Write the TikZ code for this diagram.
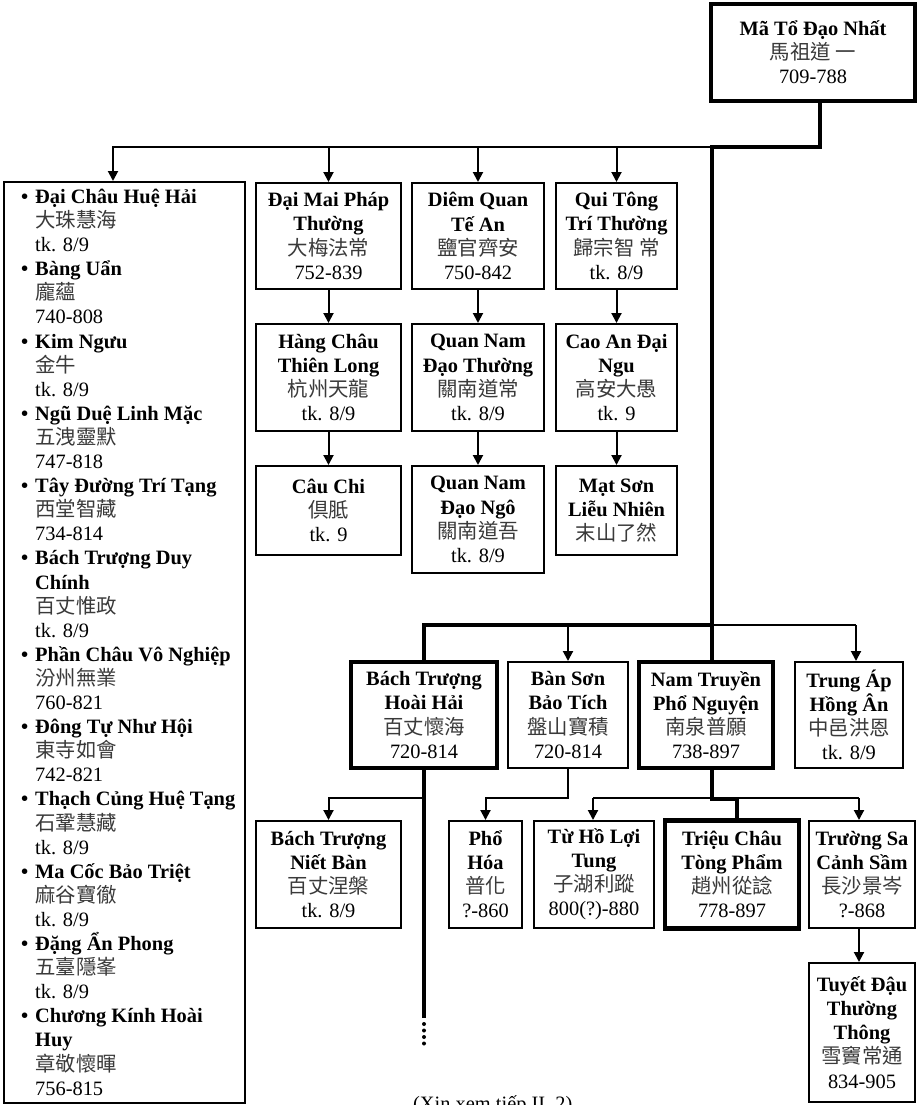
\documentclass[tikz,border=0pt]{standalone}
\usepackage{fontspec}
\setmainfont{Liberation Serif}
\newfontfamily\cjkfont{Noto Sans CJK TC}
\usetikzlibrary{arrows.meta}
\definecolor{cjkc}{HTML}{3A3A3A}
\newcommand\fs{\fontsize{20.4pt}{24.1pt}\selectfont}
\newcommand\cj[1]{{\cjkfont\color{cjkc}#1}}
\newcommand\nm[1]{\textbf{#1}}
\newcommand\bul[1]{\textbf{\llap{•\hspace{7pt}}#1}}
\begin{document}
\begin{tikzpicture}[x=1pt,y=-1pt,
  box/.style={draw, line width=2pt, align=center, font=\fs, inner sep=0pt},
  tbox/.style={box, line width=4.5pt},
  thinl/.style={line width=2pt},
  thickl/.style={line width=4.5pt},
  arr/.style={-{Triangle[length=10pt,width=10pt]}},
]
\useasboundingbox (0,0) rectangle (917,1105);
\fill[white] (0,0) rectangle (917,1105);

% root
\node[tbox, minimum width=204pt, minimum height=97pt] (ma) at (813,52.5)
  {\nm{Mã Tổ Đạo Nhất}\\\cj{馬祖道 一}\\709-788};

% left list
\node[draw, line width=2pt, minimum width=241pt, minimum height=921pt, inner sep=0pt] (lst) at (124.5,642.5) {};
\node[font=\fs, align=left, inner sep=0pt, anchor=south west] (lsttxt) at (35,1095.5) {%
\bul{Đại Châu Huệ Hải}\\ \cj{大珠慧海}\\ tk. 8/9\\
\bul{Bàng Uẩn}\\ \cj{龐蘊}\\ 740-808\\
\bul{Kim Ngưu}\\ \cj{金牛}\\ tk. 8/9\\
\bul{Ngũ Duệ Linh Mặc}\\ \cj{五洩靈默}\\ 747-818\\
\bul{Tây Đường Trí Tạng}\\ \cj{西堂智藏}\\ 734-814\\
\bul{Bách Trượng Duy}\\ \nm{Chính}\\ \cj{百丈惟政}\\ tk. 8/9\\
\bul{Phần Châu Vô Nghiệp}\\ \cj{汾州無業}\\ 760-821\\
\bul{Đông Tự Như Hội}\\ \cj{東寺如會}\\ 742-821\\
\bul{Thạch Củng Huệ Tạng}\\ \cj{石鞏慧藏}\\ tk. 8/9\\
\bul{Ma Cốc Bảo Triệt}\\ \cj{麻谷寶徹}\\ tk. 8/9\\
\bul{Đặng Ẩn Phong}\\ \cj{五臺隱峯}\\ tk. 8/9\\
\bul{Chương Kính Hoài}\\ \nm{Huy}\\ \cj{章敬懷暉}\\ 756-815};

% row 1-3 columns
\node[box, minimum width=145pt, minimum height=106pt] (a1) at (328.5,236) {\nm{Đại Mai Pháp}\\\nm{Thường}\\\cj{大梅法常}\\752-839};
\node[box, minimum width=132pt, minimum height=106pt] (b1) at (478,236) {\nm{Diêm Quan}\\\nm{Tế An}\\\cj{鹽官齊安}\\750-842};
\node[box, minimum width=121pt, minimum height=106pt] (c1) at (616.5,236) {\nm{Qui Tông}\\\nm{Trí Thường}\\\cj{歸宗智 常}\\tk. 8/9};

\node[box, minimum width=145pt, minimum height=107pt] (a2) at (328.5,377.5) {\nm{Hàng Châu}\\\nm{Thiên Long}\\\cj{杭州天龍}\\tk. 8/9};
\node[box, minimum width=132pt, minimum height=107pt] (b2) at (478,377.5) {\nm{Quan Nam}\\\nm{Đạo Thường}\\\cj{關南道常}\\tk. 8/9};
\node[box, minimum width=121pt, minimum height=107pt] (c2) at (616.5,377.5) {\nm{Cao An Đại}\\\nm{Ngu}\\\cj{高安大愚}\\tk. 9};

\node[box, minimum width=145pt, minimum height=89pt] (a3) at (328.5,510.5) {\nm{Câu Chi}\\\cj{倶胝}\\tk. 9};
\node[box, minimum width=132pt, minimum height=107pt] (b3) at (478,519.5) {\nm{Quan Nam}\\\nm{Đạo Ngô}\\\cj{關南道吾}\\tk. 8/9};
\node[box, minimum width=121pt, minimum height=89pt] (c3) at (616.5,510.5) {\nm{Mạt Sơn}\\\nm{Liễu Nhiên}\\\cj{末山了然}};

% level 2
\node[tbox, minimum width=146pt, minimum height=106pt] (bthh) at (424,715) {\nm{Bách Trượng}\\\nm{Hoài Hải}\\\cj{百丈懷海}\\720-814};
\node[box, minimum width=120pt, minimum height=106pt] (bs) at (568,715) {\nm{Bàn Sơn}\\\nm{Bảo Tích}\\\cj{盤山寶積}\\720-814};
\node[tbox, minimum width=134pt, minimum height=106pt] (nt) at (706,715) {\nm{Nam Truyền}\\\nm{Phổ Nguyện}\\\cj{南泉普願}\\738-897};
\node[box, minimum width=108pt, minimum height=106pt] (ta) at (849,715) {\nm{Trung Áp}\\\nm{Hồng Ân}\\\cj{中邑洪恩}\\tk. 8/9};

% level 3
\node[box, minimum width=145pt, minimum height=107pt] (btnb) at (328.5,874.5) {\nm{Bách Trượng}\\\nm{Niết Bàn}\\\cj{百丈涅槃}\\tk. 8/9};
\node[box, minimum width=73pt, minimum height=107pt] (ph) at (485.5,874.5) {\nm{Phổ}\\\nm{Hóa}\\\cj{普化}\\?-860};
\node[box, minimum width=120pt, minimum height=107pt] (th) at (594,874.5) {\nm{Từ Hồ Lợi}\\\nm{Tung}\\\cj{子湖利蹤}\\800(?)-880};
\node[tbox, minimum width=134pt, minimum height=108pt] (tc) at (732,874.5) {\nm{Triệu Châu}\\\nm{Tòng Phẩm}\\\cj{趙州從諗}\\778-897};
\node[box, minimum width=106pt, minimum height=107pt] (ts) at (862,874.5) {\nm{Trường Sa}\\\nm{Cảnh Sầm}\\\cj{長沙景岑}\\?-868};
\node[box, minimum width=106pt, minimum height=139pt] (td) at (862,1032.5) {\nm{Tuyết Đậu}\\\nm{Thường}\\\nm{Thông}\\\cj{雪竇常通}\\834-905};

% caption (cut by the lower edge, as in the reference)
\node[font=\fs, anchor=base west, inner sep=0pt] (cap) at (413,1110) {(Xin xem tiếp II, 2)};

% coordinates
\coordinate (t0) at (820,147);
\coordinate (tJ) at (712,147);
\coordinate (tK) at (712,625);
\coordinate (tL) at (424,625);
\coordinate (h1a) at (113,147);
\coordinate (h2r) at (856,625);
\coordinate (q1) at (424,798);
\coordinate (q2) at (568,798);
\coordinate (n1) at (712,799);
\coordinate (n2) at (737,799);
\coordinate (n3) at (593,798);
\coordinate (n4) at (859,798);
\coordinate (dotS) at (424,1018);
\coordinate (dot1) at (424,1024);
\coordinate (dot2) at (424,1050);

% thick main lineage
\draw[thickl, line join=miter] (ma.south -| t0) -- (t0) -- (tJ) -- (tK) -- (tL) -- (bthh.north);
\draw[thickl] (tK) -- (tK |- nt.north);
\draw[thickl] (bthh.south) -- (dotS);
\draw[line width=4pt, line cap=round, dash pattern=on 0pt off 6.5pt] (dot1) -- (dot2);
\draw[thickl, line join=miter] (nt.south -| n1) -- (n1) -- (n2) -- (n2 |- tc.north);

% thin branches top
\draw[thinl, arr] (tJ) -- (h1a) -- (h1a |- lst.north);
\draw[thinl, arr] (a1.north |- tJ) -- (a1.north);
\draw[thinl, arr] (b1.north |- tJ) -- (b1.north);
\draw[thinl, arr] (c1.north |- tJ) -- (c1.north);
\draw[thinl, arr] (a1.south) -- (a2.north);
\draw[thinl, arr] (b1.south) -- (b2.north);
\draw[thinl, arr] (c1.south) -- (c2.north);
\draw[thinl, arr] (a2.south) -- (a3.north);
\draw[thinl, arr] (b2.south) -- (b3.north);
\draw[thinl, arr] (c2.south) -- (c3.north);

% thin branches level 2
\draw[thinl] (tK) -- (h2r);
\draw[thinl, arr] (h2r) -- (h2r |- ta.north);
\draw[thinl, arr] (bs.north |- tK) -- (bs.north);

% thin branches level 3
\draw[thinl, arr] (q1) -| (btnb.north);
\draw[thinl, arr] (bs.south) -- (q2) -| (ph.north);
\draw[thinl] (n3) -- (n4);
\draw[thinl, arr] (n3) -- (n3 |- th.north);
\draw[thinl, arr] (n4) -- (n4 |- ts.north);
\draw[thinl, arr] (ts.south -| n4) -- (n4 |- td.north);
\end{tikzpicture}
\end{document}
